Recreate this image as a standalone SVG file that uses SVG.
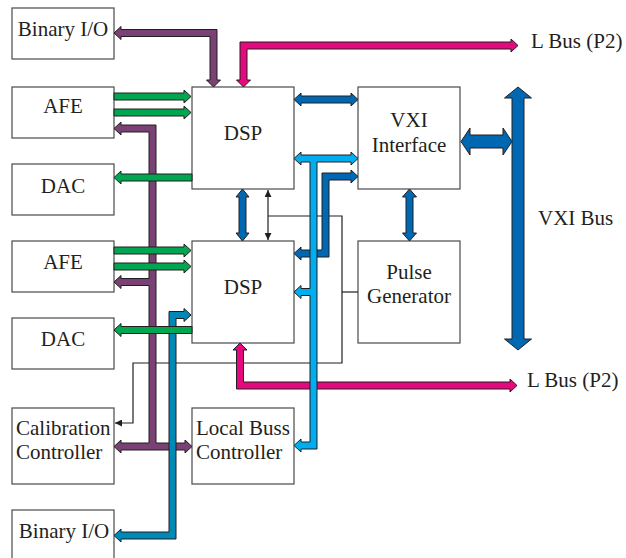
<svg xmlns="http://www.w3.org/2000/svg" width="626" height="558" viewBox="0 0 626 558">
<defs>
<style>
.box{fill:#fff;stroke:#4a4a4a;stroke-width:1.2}
text{font-family:'Liberation Serif','DejaVu Serif',serif;font-size:21px;fill:#231f20}
.c{text-anchor:middle}
.fat{stroke:#231f20;stroke-width:1;stroke-linejoin:miter}
.pur{fill:#7a4174}.grn{fill:#00a650}.mag{fill:#e5097f}.dbl{fill:#0068b3}.lbl{fill:#00aeef}.teal{fill:#0089b6}
.thin{fill:none;stroke:#231f20;stroke-width:1.2}
</style>
<marker id="ah" viewBox="0 0 10 10" refX="10" refY="5" markerWidth="7" markerHeight="7" markerUnits="userSpaceOnUse" orient="auto-start-reverse">
<path d="M0,0 L10,5 L0,10 Z" fill="#231f20"/>
</marker>
</defs>
<rect width="626" height="558" fill="#fff"/>

<g id="binio1"><rect class="box" x="12" y="8" width="102" height="51"/><text class="c" x="63" y="36" font-family="Liberation Serif">Binary I/O</text></g>
<g id="afe1"><rect class="box" x="12" y="87" width="102" height="51"/><text class="c" x="63" y="113" font-family="Liberation Serif">AFE</text></g>
<g id="dac1"><rect class="box" x="12" y="164" width="102" height="51"/><text class="c" x="63" y="192.5" font-family="Liberation Serif">DAC</text></g>
<g id="afe2"><rect class="box" x="12" y="241" width="102" height="51"/><text class="c" x="63" y="269" font-family="Liberation Serif">AFE</text></g>
<g id="dac2"><rect class="box" x="12" y="318" width="102" height="51"/><text class="c" x="63" y="346" font-family="Liberation Serif">DAC</text></g>
<g id="calib"><rect class="box" x="12" y="408" width="102" height="76"/><text x="16" y="435" font-family="Liberation Serif">Calibration</text><text x="16" y="459" font-family="Liberation Serif">Controller</text></g>
<g id="binio2"><rect class="box" x="12" y="510" width="102" height="52"/><text class="c" x="64" y="538" font-family="Liberation Serif">Binary I/O</text></g>
<g id="dsp1"><rect class="box" x="192" y="87" width="102" height="102"/><text class="c" x="243" y="140" font-family="Liberation Serif">DSP</text></g>
<g id="dsp2"><rect class="box" x="192" y="241" width="102" height="102"/><text class="c" x="243" y="294" font-family="Liberation Serif">DSP</text></g>
<g id="localbus"><rect class="box" x="192" y="408" width="102" height="76"/><text x="196" y="435" font-family="Liberation Serif">Local Buss</text><text x="196" y="459" font-family="Liberation Serif">Controller</text></g>
<g id="vxi"><rect class="box" x="358" y="87" width="102" height="102"/><text class="c" x="409" y="127" font-family="Liberation Serif">VXI</text><text class="c" x="409" y="152" font-family="Liberation Serif">Interface</text></g>
<g id="pulse"><rect class="box" x="358" y="241" width="102" height="102"/><text class="c" x="409" y="279" font-family="Liberation Serif">Pulse</text><text class="c" x="409" y="303" font-family="Liberation Serif">Generator</text></g>
<g id="lbus1"><text x="531" y="48" font-family="Liberation Serif">L Bus (P2)</text></g>
<g id="lbus2"><text x="527" y="387" font-family="Liberation Serif">L Bus (P2)</text></g>
<g id="vxibus"><text x="538" y="225" font-family="Liberation Serif">VXI Bus</text></g>

<g id="connectors">
<path class="thin" d="M268,216 H342 V363 H133 V423 H115" marker-end="url(#ah)"/>
<path class="thin" d="M342,292 H358"/>
<path class="thin" d="M268,190 V240" marker-start="url(#ah)" marker-end="url(#ah)"/>

<path class="fat pur" d="M114,33 L121,26.5 L121,29.5 L217,29.5 L217,80 L220.5,80 L213.5,87 L206.5,80 L210,80 L210,36.5 L121,36.5 L121,39.5 Z"/>
<path class="fat pur" d="M114,128.5 L121,122 L121,125 L156,125 L156,443 L185,443 L185,440 L192,446.5 L185,453 L185,450 L121,450 L121,453 L114,446.5 L121,440 L121,443 L149,443 L149,285.5 L121,285.5 L121,288.5 L114,282 L121,275.5 L121,278.5 L149,278.5 L149,132 L121,132 L121,135 Z"/>
<path class="fat teal" d="M191,315 L184,308.5 L184,311.5 L169,311.5 L169,532 L121,532 L121,529 L114,535.5 L121,542 L121,539 L176,539 L176,318.5 L184,318.5 L184,321.5 Z"/>

<path class="fat grn" d="M114,93 L184,93 L184,90 L191,96.5 L184,103 L184,100 L114,100 Z"/>
<path class="fat grn" d="M114,109 L184,109 L184,106 L191,112.5 L184,119 L184,116 L114,116 Z"/>
<path class="fat grn" d="M192,174 L121,174 L121,171 L114,177.5 L121,184 L121,181 L192,181 Z"/>
<path class="fat grn" d="M114,247 L184,247 L184,244 L191,250.5 L184,257 L184,254 L114,254 Z"/>
<path class="fat grn" d="M114,263 L184,263 L184,260 L191,266.5 L184,273 L184,270 L114,270 Z"/>
<path class="fat grn" d="M192,326.5 L121,326.5 L121,323.5 L114,330 L121,336.5 L121,333.5 L192,333.5 Z"/>

<path class="fat mag" d="M243.5,87 L236.5,80 L240,80 L240,42 L511,42 L511,39 L518,45.5 L511,52 L511,49 L247,49 L247,80 L250.5,80 Z"/>
<path class="fat mag" d="M240,343 L247,350 L243.5,350 L243.5,382 L510,382 L510,379 L517,385.5 L510,392 L510,389 L236.5,389 L236.5,350 L233,350 Z"/>

<path class="fat dbl" d="M294,99.5 L301,93 L301,96 L351,96 L351,93 L358,99.5 L351,106 L351,103 L301,103 L301,106 Z"/>
<path class="fat dbl" d="M358,176.5 L351,170 L351,173 L322,173 L322,250 L301,250 L301,247 L294,253.5 L301,260 L301,257 L329,257 L329,180 L351,180 L351,183 Z"/>
<path class="fat dbl" d="M242.5,189 L249,197 L246,197 L246,233 L249,233 L242.5,241 L236,233 L239,233 L239,197 L236,197 Z"/>
<path class="fat dbl" d="M409.5,189 L416.5,197 L413,197 L413,233 L416.5,233 L409.5,241 L402.5,233 L406,233 L406,197 L402.5,197 Z"/>

<path class="fat lbl" d="M294,158.5 L301,152 L301,155 L351,155 L351,152 L358,158.5 L351,165 L351,162 L317,162 L317,449 L301,449 L301,452 L294,445.5 L301,439 L301,442 L310,442 L310,295.5 L301,295.5 L301,298.5 L294,292 L301,285.5 L301,288.5 L310,288.5 L310,162 L301,162 L301,165 Z"/>

<path class="fat dbl" d="M461,141.5 L470,128 L470,135 L503,135 L503,128 L512,141.5 L503,155 L503,148 L470,148 L470,155 Z"/>
<path class="fat dbl" d="M518,87 L531.5,98 L524,98 L524,339 L531.5,339 L518,350 L504.5,339 L512,339 L512,98 L504.5,98 Z"/>
</g>
</svg>
